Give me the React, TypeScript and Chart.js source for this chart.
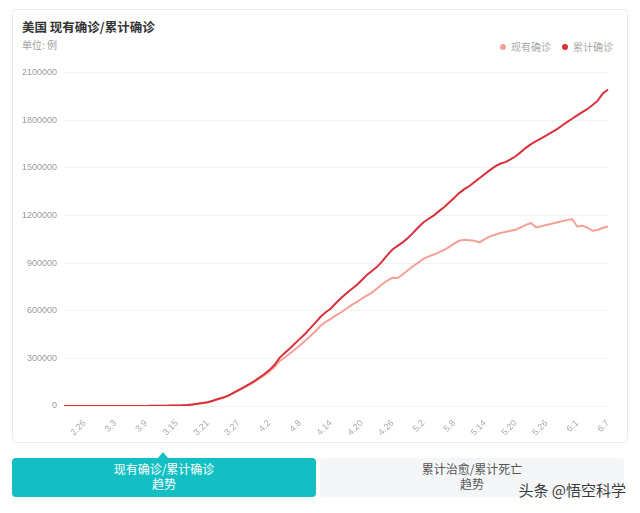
import React, { useEffect, useRef } from 'react';
import { Chart, registerables } from 'chart.js';

Chart.register(...registerables);

const dates = [
  '2.22', '2.23', '2.24', '2.25', '2.26', '2.27', '2.28', '2.29',
  '3.1', '3.2', '3.3', '3.4', '3.5', '3.6', '3.7', '3.8', '3.9', '3.10',
  '3.11', '3.12', '3.13', '3.14', '3.15', '3.16', '3.17', '3.18', '3.19', '3.20',
  '3.21', '3.22', '3.23', '3.24', '3.25', '3.26', '3.27', '3.28', '3.29', '3.30', '3.31',
  '4.1', '4.2', '4.3', '4.4', '4.5', '4.6', '4.7', '4.8', '4.9', '4.10',
  '4.11', '4.12', '4.13', '4.14', '4.15', '4.16', '4.17', '4.18', '4.19', '4.20',
  '4.21', '4.22', '4.23', '4.24', '4.25', '4.26', '4.27', '4.28', '4.29', '4.30',
  '5.1', '5.2', '5.3', '5.4', '5.5', '5.6', '5.7', '5.8', '5.9', '5.10',
  '5.11', '5.12', '5.13', '5.14', '5.15', '5.16', '5.17', '5.18', '5.19', '5.20',
  '5.21', '5.22', '5.23', '5.24', '5.25', '5.26', '5.27', '5.28', '5.29', '5.30', '5.31',
  '6.1', '6.2', '6.3', '6.4', '6.5', '6.6', '6.7',
];

const shownDates = [
  '2.26', '3.3', '3.9', '3.15', '3.21', '3.27', '4.2', '4.8', '4.14',
  '4.20', '4.26', '5.2', '5.8', '5.14', '5.20', '5.26', '6.1', '6.7',
];

// 累计确诊
const cumulative = [
  35, 35, 53, 53, 57, 60, 62, 68,
  75, 100, 124, 158, 221, 319, 435, 541, 704, 994,
  1301, 1697, 2247, 2943, 3680, 4663, 6411, 9197, 13779, 19367,
  24200, 33000, 44000, 53000, 65000, 83000, 100000, 118000, 136000, 155000, 178000,
  200000, 226000, 258000, 303000, 333000, 362000, 393000, 424000, 455000, 490000,
  525000, 562000, 590000, 614000, 648000, 680000, 708000, 735000, 760000, 792000,
  825000, 850000, 876000, 910000, 950000, 985000, 1008000, 1030000, 1058000, 1090000,
  1124000, 1155000, 1177000, 1198000, 1225000, 1250000, 1280000, 1310000, 1340000, 1365000,
  1385000, 1410000, 1435000, 1460000, 1485000, 1508000, 1525000, 1535000, 1552000, 1572000,
  1598000, 1625000, 1648000, 1667000, 1685000, 1703000, 1722000, 1741000, 1764000, 1787000, 1808000,
  1829000, 1850000, 1870000, 1895000, 1922000, 1968000, 1992000,
];

// 现有确诊
const current = [
  20, 20, 38, 38, 42, 45, 47, 53,
  68, 92, 116, 148, 208, 302, 410, 512, 668, 950,
  1248, 1630, 2165, 2840, 3560, 4510, 6200, 8930, 13400, 18900,
  23500, 32300, 43000, 52000, 63500, 81000, 97500, 115000, 132000, 150000, 171000,
  192000, 216000, 245000, 282000, 305000, 330000, 356000, 382000, 410000, 440000,
  470000, 505000, 530000, 548000, 570000, 590000, 612000, 635000, 654000, 675000,
  695000, 714000, 740000, 766000, 790000, 808000, 806000, 828000, 855000, 880000,
  902000, 926000, 940000, 953000, 965000, 982000, 1000000, 1022000, 1040000, 1046000,
  1043000, 1040000, 1030000, 1050000, 1068000, 1078000, 1089000, 1095000, 1103000, 1110000,
  1124000, 1140000, 1152000, 1124000, 1132000, 1140000, 1147000, 1155000, 1163000, 1170000, 1177000,
  1130000, 1135000, 1122000, 1103000, 1108000, 1122000, 1130000,
];

const yMax = 2100000;
const yStep = 300000;

const seriesNames = ['现有确诊', '累计确诊'];
const seriesColors = ['#f4a097', '#d8313c'];

const FONT = "'Liberation Sans', Arial, sans-serif";
const CJK = "'Noto Sans CJK SC', 'Microsoft YaHei', sans-serif";

export default function App() {
  const canvasRef = useRef<HTMLCanvasElement | null>(null);

  useEffect(() => {
    if (!canvasRef.current) return;
    const chart = new Chart(canvasRef.current, {
      type: 'line',
      data: {
        labels: dates,
        datasets: [
          {
            label: seriesNames[0],
            data: current,
            borderColor: seriesColors[0],
            backgroundColor: seriesColors[0],
            borderWidth: 2,
            pointRadius: 0,
            tension: 0,
            order: 1,
          },
          {
            label: seriesNames[1],
            data: cumulative,
            borderColor: seriesColors[1],
            backgroundColor: seriesColors[1],
            borderWidth: 2,
            pointRadius: 0,
            tension: 0,
            order: 0,
          },
        ],
      },
      options: {
        animation: false,
        responsive: true,
        maintainAspectRatio: false,
        layout: { padding: { left: 0, top: 11, right: 20, bottom: 0 } },
        plugins: { legend: { display: false }, tooltip: { enabled: false } },
        scales: {
          x: {
            grid: { display: false },
            border: { display: false },
            ticks: {
              autoSkip: false,
              minRotation: 45,
              maxRotation: 45,
              padding: 4,
              color: '#aaaaaa',
              font: { family: FONT, size: 9 },
              callback: (_v: any, i: number) => (shownDates.includes(dates[i]) ? dates[i] : ''),
            },
            afterFit: (s: any) => {
              s.height = 34;
            },
          },
          y: {
            min: 0,
            max: yMax,
            grid: { color: '#f2f2f2', drawTicks: false },
            border: { display: false },
            ticks: {
              stepSize: yStep,
              padding: 7,
              color: '#999999',
              font: { family: FONT, size: 9 },
              callback: (v: any) => String(v),
            },
            afterFit: (s: any) => {
              s.width = 52;
            },
          },
        },
      },
    });
    return () => chart.destroy();
  }, []);

  return (
    <div style={{ position: 'relative', width: 640, height: 513, margin: -8, background: '#fff', fontFamily: CJK, overflow: 'hidden' }}>
      <div
        style={{
          position: 'absolute',
          left: 12,
          top: 9,
          width: 614,
          height: 432,
          border: '1px solid #ebebeb',
          borderRadius: 4,
        }}
      />
      <div style={{ position: 'absolute', left: 22, top: 18, fontSize: 12.5, fontWeight: 700, color: '#333', lineHeight: '18px' }}>
        美国 现有确诊/累计确诊
      </div>
      <div style={{ position: 'absolute', left: 22, top: 38, fontSize: 10, color: '#a0a0a0', lineHeight: '14px' }}>
        单位: 例
      </div>
      <div style={{ position: 'absolute', left: 500, top: 40, fontSize: 10, color: '#a8a8a8', lineHeight: '14px', display: 'flex', alignItems: 'center' }}>
        {seriesNames.map((n, i) => (
          <span key={n} style={{ display: 'flex', alignItems: 'center', marginRight: i === 0 ? 11 : 0 }}>
            <span style={{ width: 6, height: 6, borderRadius: 3, background: seriesColors[i], marginRight: 5, display: 'inline-block' }} />
            {n}
          </span>
        ))}
      </div>
      <div style={{ position: 'absolute', left: 12, top: 60, width: 616, height: 380 }}>
        <canvas ref={canvasRef} />
      </div>
      <div
        style={{
          position: 'absolute',
          left: 12,
          top: 458,
          width: 304,
          height: 39,
          background: '#14bfc3',
          borderRadius: 4,
          color: '#fff',
          fontSize: 12,
          lineHeight: '15px',
          textAlign: 'center',
          paddingTop: 3,
          boxSizing: 'border-box',
        }}
      >
        <div>现有确诊/累计确诊</div>
        <div>趋势</div>
      </div>
      <div
        style={{
          position: 'absolute',
          left: 158,
          top: 452,
          width: 0,
          height: 0,
          borderLeft: '5px solid transparent',
          borderRight: '5px solid transparent',
          borderBottom: '6px solid #14bfc3',
        }}
      />
      <div
        style={{
          position: 'absolute',
          left: 320,
          top: 458,
          width: 304,
          height: 39,
          background: '#f4f5f7',
          borderRadius: 4,
          color: '#555',
          fontSize: 12,
          lineHeight: '15px',
          textAlign: 'center',
          paddingTop: 3,
          boxSizing: 'border-box',
        }}
      >
        <div>累计治愈/累计死亡</div>
        <div>趋势</div>
      </div>
      <div
        style={{
          position: 'absolute',
          right: 14,
          top: 480,
          fontSize: 15,
          color: '#3a3a3a',
          lineHeight: '20px',
          textShadow: '0 0 2px #fff',
        }}
      >
        头条 @悟空科学
      </div>
    </div>
  );
}
